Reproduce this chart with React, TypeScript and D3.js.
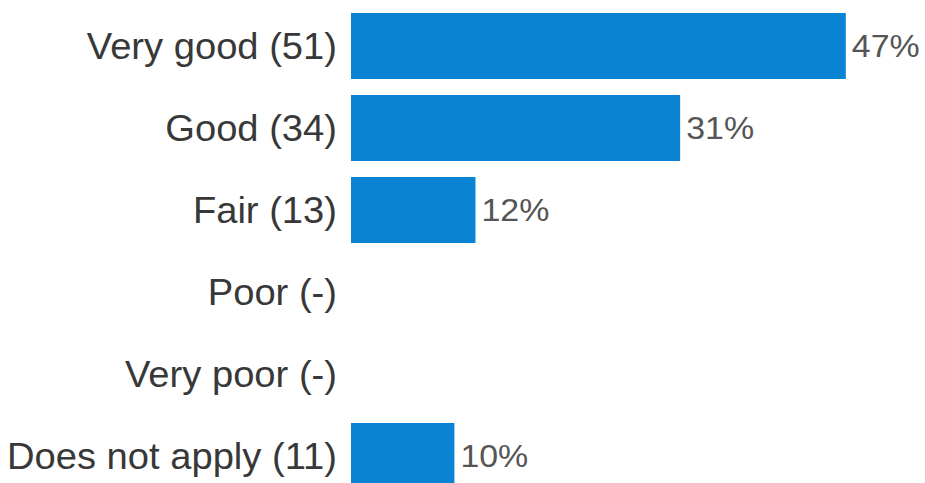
import React from "react";
import * as d3 from "d3";

const categories = ["Very good (51)", "Good (34)", "Fair (13)", "Poor (-)", "Very poor (-)", "Does not apply (11)"];
const values = [46.9, 31.2, 11.8, 0, 0, 9.8];
const valueLabels = ["47%", "31%", "12%", "", "", "10%"];

const W = 925;
const H = 483;

export default function App() {
  const x = d3.scaleLinear().domain([0, 100]).range([351, 351 + 1055]);
  const y = d3
    .scaleBand<string>()
    .domain(categories)
    .range([5, 5 + 82 * categories.length])
    .paddingInner(0.195)
    .paddingOuter(0.0975);
  const bw = y.bandwidth();
  return (
    <svg width={W} height={H} style={{ position: "absolute", left: 0, top: 0, background: "#fff" }}>
      {categories.map((c, i) => {
        const y0 = y(c)!;
        const cy = y0 + bw / 2;
        return (
          <g key={c}>
            <text
              transform={`translate(337,${cy + 13}) scale(1.06,1)`}
              textAnchor="end"
              fontFamily="Liberation Sans, Arial, sans-serif"
              fontSize={36}
              fill="#383838"
            >
              {c}
            </text>
            {values[i] > 0 && (
              <rect x={x(0)} y={y0} width={x(values[i]) - x(0)} height={bw} fill="#0a84d2" />
            )}
            {valueLabels[i] && (
              <text
                transform={`translate(${x(values[i]) + 6},${cy + 11}) scale(1.06,1)`}
                fontFamily="Liberation Sans, Arial, sans-serif"
                fontSize={32}
                fill="#555"
              >
                {valueLabels[i]}
              </text>
            )}
          </g>
        );
      })}
    </svg>
  );
}
